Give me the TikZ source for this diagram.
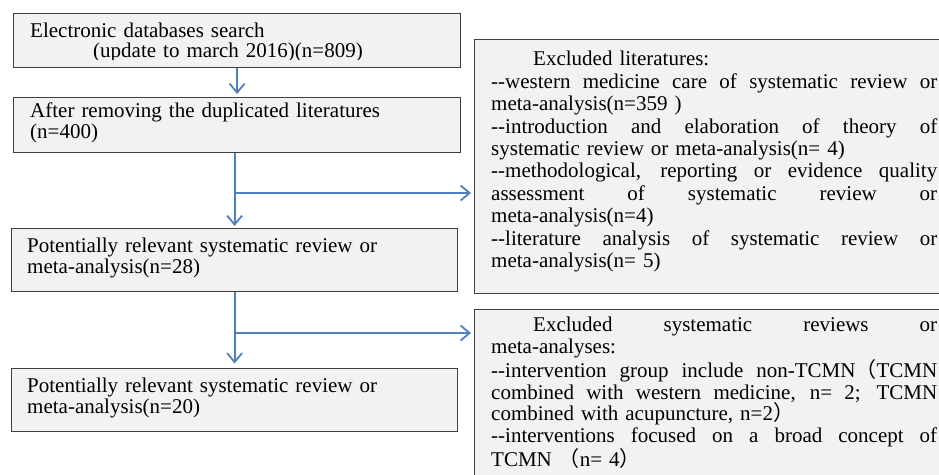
\documentclass[tikz,border=0pt]{standalone}
\usepackage{fontspec}
\setmainfont{Liberation Serif}
\newfontfamily\cjk{Noto Sans CJK SC}
\usetikzlibrary{arrows.meta}
\definecolor{arrowblue}{HTML}{4F81BD}
\definecolor{boxfill}{HTML}{F2F2F2}
\definecolor{boxline}{HTML}{404040}
\newcommand{\dd}{-\kern0pt-}
\newcommand{\jl}[1]{{\spaceskip=0pt\xspaceskip=0pt\makebox[446bp][s]{#1}}}
\newcommand{\flp}{{\cjk （}}
\newcommand{\frp}{{\cjk ）}}
\begin{document}
\begin{tikzpicture}[x=1bp,y=-1bp,
  box/.style={draw=boxline, fill=boxfill, line width=1.2bp, anchor=north west, inner sep=0pt},
  txt/.style={anchor=base west, inner sep=0pt, align=left, text width=#1},
  flow/.style={draw=arrowblue, line width=1.8bp, -{Straight Barb[length=9bp,width=15bp,line width=1.8bp]}},
  ]
\useasboundingbox (0,0) rectangle (939,475);
\fill[white] (0,0) rectangle (939,475);
\clip (0,0) rectangle (939,475);

% boxes
\node[box, minimum width=447bp, minimum height=54bp] (b1) at (13,13) {};
\node[box, minimum width=447bp, minimum height=55bp] (b2) at (13,97) {};
\node[box, minimum width=446bp, minimum height=63bp] (b3) at (11,228) {};
\node[box, minimum width=446bp, minimum height=63bp] (b4) at (11,368) {};
\node[box, minimum width=486bp, minimum height=254bp] (r1) at (474,39) {};
\node[box, minimum width=486bp, minimum height=190bp] (r2) at (474,309) {};

% texts
\begin{scope}
\clip (13,13) rectangle (460,60);
\node[txt=420bp, font=\fontsize{21bp}{20bp}\selectfont] (t1) at (30,37.7)
  {Electronic databases search\\\hspace*{63bp}(update to march 2016)(n=809)};
\end{scope}
\node[txt=420bp, font=\fontsize{21bp}{20.5bp}\selectfont] (t2) at (30,118)
  {After removing the duplicated literatures\\(n=400)};
\node[txt=420bp, font=\fontsize{21bp}{21bp}\selectfont] (t3) at (27,252.3)
  {Potentially relevant systematic review or\\meta-analysis(n=28)};
\node[txt=420bp, font=\fontsize{21bp}{21bp}\selectfont] (t4) at (27,392.3)
  {Potentially relevant systematic review or\\meta-analysis(n=20)};

\node[txt=446bp, font=\fontsize{21bp}{22.4bp}\selectfont] (tr1) at (491,66)
  {\hspace*{2em}Excluded literatures:\\
   \jl{\dd western medicine care of systematic review or}\\
   meta-analysis(n=359 )\\
   \jl{\dd introduction and elaboration of theory of}\\
   systematic review or meta-analysis(n= 4)\\
   \jl{\dd methodological, reporting or evidence quality}\\
   \jl{assessment of systematic review or}\\
   meta-analysis(n=4)\\
   \jl{\dd literature analysis of systematic review or}\\
   meta-analysis(n= 5)};

\node[txt=446bp, font=\fontsize{21bp}{21.8bp}\selectfont] (tr2) at (491,332)
  {\jl{\hspace*{2em}Excluded systematic reviews or}\\
   meta-analyses:\\
   \jl{\dd intervention group include non-TCMN\flp TCMN}\\
   \jl{combined with western medicine, n= 2; TCMN}\\
   combined with acupuncture, n=2\frp\\
   \jl{\dd interventions focused on a broad concept of}\\
   TCMN \flp n= 4\frp};

% connectors
\draw[flow, shorten >=3bp] (b1.south) -- (b2.north);
\draw[flow, shorten >=2bp] (b2.south -| b3.north) -- (b3.north);
\coordinate (j1) at (234,193);
\draw[flow, shorten >=3bp] (j1) -- (j1 -| r1.west);
\draw[flow, shorten >=4.5bp] (b3.south) -- (b4.north);
\coordinate (j2) at (234,333);
\draw[flow, shorten >=3bp] (j2) -- (j2 -| r2.west);
\end{tikzpicture}
\end{document}
